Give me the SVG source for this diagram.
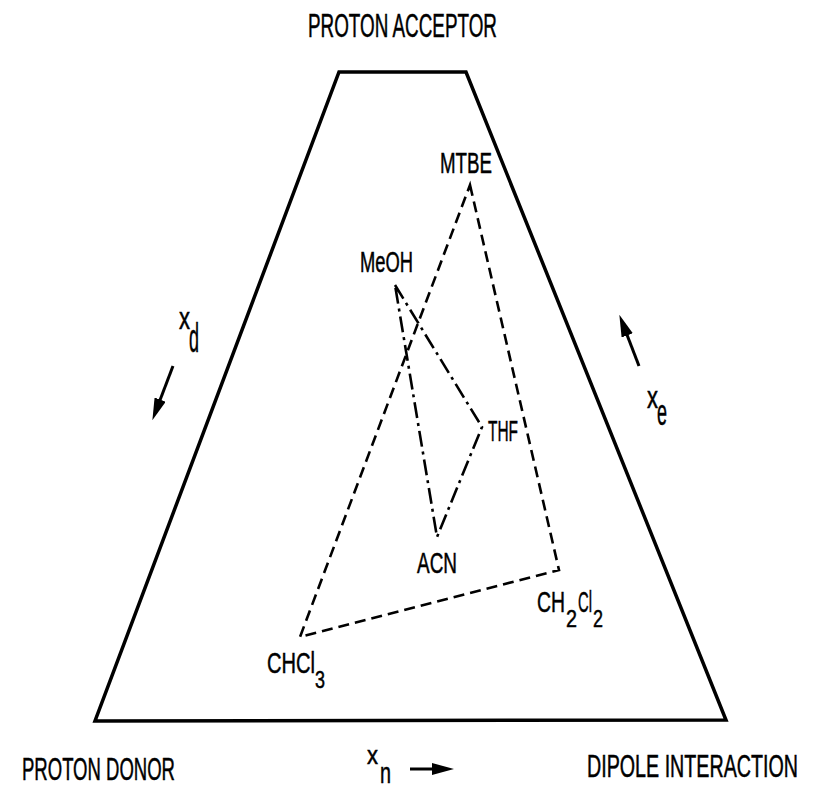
<svg xmlns="http://www.w3.org/2000/svg" width="815" height="788" viewBox="0 0 815 788">
<style>
text{font-family:"Liberation Sans",Arial,sans-serif;fill:#000;stroke:#000;stroke-width:0.5}
.big{font-size:33px}
.bot{font-size:31px}
.lbl{font-size:30px}
.sub{font-size:24px}
.frame{fill:none;stroke:#000;stroke-width:3.5;stroke-linejoin:miter}
.dash{fill:none;stroke:#000;stroke-width:2.6;stroke-dasharray:11 6}
.dashdot{fill:none;stroke:#000;stroke-width:2.6;stroke-dasharray:16 5 3 5}
.arrow{fill:none;stroke:#000;stroke-width:3}
</style>
<defs>
<marker id="ah" viewBox="0 0 22 12" refX="9" refY="6" markerWidth="22" markerHeight="12" markerUnits="userSpaceOnUse" orient="auto">
<path d="M0,0 L22,6 L0,12 z" fill="#000"/>
</marker>
</defs>
<rect width="815" height="788" fill="#fff"/>
<g id="frame">
<polygon class="frame" points="339,72 466,72 726,720 95,721"/>
</g>
<g id="connectors">
<polygon class="dash" points="470,185 559,570 300,637"/>
<polygon class="dashdot" points="395,285 482,427 437,537"/>
<line class="arrow" x1="173" y1="366" x2="157" y2="408" marker-end="url(#ah)"/>
<line class="arrow" x1="639" y1="366" x2="624" y2="327" marker-end="url(#ah)"/>
<line class="arrow" x1="410" y1="769" x2="441" y2="769" marker-end="url(#ah)"/>
</g>
<g id="proton-acceptor"><text class="big" x="308" y="37" textLength="189" lengthAdjust="spacingAndGlyphs">PROTON ACCEPTOR</text></g>
<g id="proton-donor"><text class="bot" x="22" y="780" textLength="153" lengthAdjust="spacingAndGlyphs">PROTON DONOR</text></g>
<g id="dipole-interaction"><text class="bot" x="587" y="777" textLength="211" lengthAdjust="spacingAndGlyphs">DIPOLE INTERACTION</text></g>
<g id="mtbe"><text class="lbl" x="440" y="173" textLength="52" lengthAdjust="spacingAndGlyphs">MTBE</text></g>
<g id="meoh"><text class="lbl" x="360" y="272" textLength="53" lengthAdjust="spacingAndGlyphs">MeOH</text></g>
<g id="thf"><text class="lbl" x="488" y="441" textLength="30" lengthAdjust="spacingAndGlyphs">THF</text></g>
<g id="acn"><text class="lbl" x="417" y="573" textLength="40" lengthAdjust="spacingAndGlyphs">ACN</text></g>
<g id="ch2cl2">
<text class="lbl" x="537" y="612" textLength="28" lengthAdjust="spacingAndGlyphs">CH</text>
<text class="sub" x="566" y="627" textLength="11" lengthAdjust="spacingAndGlyphs">2</text>
<text class="lbl" x="578" y="612" textLength="14" lengthAdjust="spacingAndGlyphs">Cl</text>
<text class="sub" x="593" y="627" textLength="10" lengthAdjust="spacingAndGlyphs">2</text>
</g>
<g id="chcl3">
<text class="lbl" x="267" y="673" textLength="48" lengthAdjust="spacingAndGlyphs">CHCl</text>
<text class="sub" x="315" y="688" textLength="10" lengthAdjust="spacingAndGlyphs">3</text>
</g>
<g id="xd">
<text x="179" y="329" textLength="11" lengthAdjust="spacingAndGlyphs" style="font-size:32px">x</text>
<text x="189" y="352" textLength="10" lengthAdjust="spacingAndGlyphs" style="font-size:40px">d</text>
</g>
<g id="xe">
<text x="647" y="408" textLength="11" lengthAdjust="spacingAndGlyphs" style="font-size:32px">x</text>
<text x="657" y="425" textLength="10" lengthAdjust="spacingAndGlyphs" style="font-size:36px">e</text>
</g>
<g id="xn">
<text x="367" y="764" textLength="11" lengthAdjust="spacingAndGlyphs" style="font-size:26px">x</text>
<text x="380" y="783" textLength="11" lengthAdjust="spacingAndGlyphs" style="font-size:30px">n</text>
</g>
</svg>
